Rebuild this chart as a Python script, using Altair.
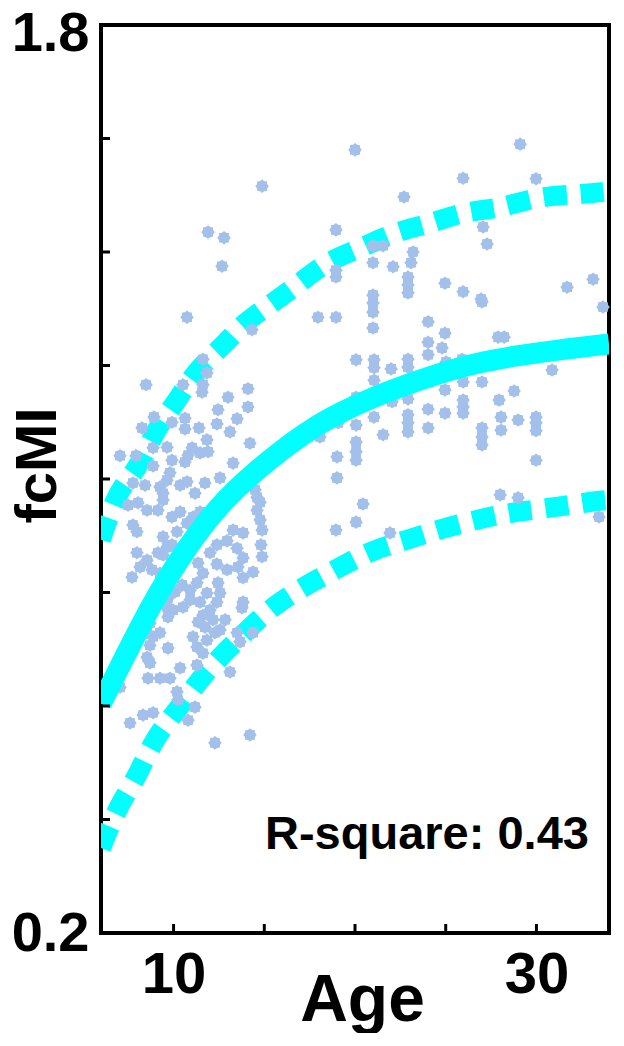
import math
import altair as alt
import pandas as pd

# ---------------- data ----------------
age = [20.00, 14.88, 11.90, 12.78, 18.95, 12.67, 18.95, 18.95, 10.74, 17.96,
       18.95, 14.32, 29.10, 25.96, 29.98, 22.70, 27.06, 27.28, 20.99, 21.55,
       23.20, 20.99, 22.10, 23.09, 22.92, 22.92, 22.92, 24.96, 25.96, 26.95,
       20.99, 20.99, 20.99, 31.69, 33.12, 33.67, 24.03, 20.99, 24.03, 24.96,
       24.80, 24.03, 20.06, 21.05, 21.05, 21.99, 22.92, 22.92, 21.05, 24.96,
       22.92, 22.04, 20.06, 21.05, 24.03, 24.96, 22.92, 22.92, 22.92, 20.06,
       24.03, 21.55, 20.06, 20.06, 20.06, 19.01, 19.01, 20.44, 20.06, 18.95,
       21.93, 19.07, 18.07, 27.00, 27.89, 25.90, 30.86, 25.96, 27.00, 28.77,
       25.96, 25.96, 25.96, 27.94, 28.05, 28.05, 28.99, 29.98, 29.98, 29.98,
       27.00, 27.00, 27.00, 29.98, 28.00, 28.99, 33.45, 11.62, 8.48, 10.52,
       11.62, 11.57, 11.84, 13.00, 14.10, 14.10, 12.45, 8.92, 8.26, 9.91,
       10.63, 10.63, 11.40, 12.39, 13.50, 13.11, 11.84, 14.21, 8.87, 9.64,
       7.05, 7.93, 11.02, 10.80, 10.63, 11.46, 11.90, 9.91, 8.87, 13.28,
       9.80, 9.64, 7.76, 8.43, 9.25, 9.42, 9.42, 10.36, 10.74, 11.73,
       12.56, 11.18, 14.49, 14.60, 14.77, 7.49, 8.04, 8.54, 9.14, 10.36,
       9.91, 11.46, 7.76, 7.98, 9.42, 10.19, 10.74, 11.07, 14.77, 14.88,
       13.28, 13.83, 7.98, 8.54, 9.14, 9.64, 8.15, 7.71, 8.81, 9.25,
       9.91, 9.42, 12.01, 12.39, 12.95, 13.50, 13.83, 13.55, 12.95, 12.39,
       14.88, 14.38, 13.83, 11.35, 11.62, 11.29, 10.91, 10.47, 10.08, 9.69,
       9.64, 9.97, 10.52, 10.91, 11.46, 11.84, 12.45, 12.56, 12.39, 13.83,
       13.77, 12.01, 11.62, 11.35, 11.73, 12.17, 12.84, 12.56, 12.28, 9.69,
       8.70, 8.54, 8.87, 9.25, 8.70, 8.54, 8.70, 9.69, 11.07, 11.29,
       11.62, 11.84, 13.50, 13.66, 14.38, 10.36, 11.29, 13.11, 8.59, 9.25,
       9.80, 7.05, 10.19, 10.24, 11.18, 8.32, 8.87, 7.60, 10.80, 12.28,
       14.21, 14.82, 14.60, 28.22, 25.02]

fcmi = [1.580, 1.516, 1.435, 1.425, 1.439, 1.375, 1.368, 1.356, 1.285, 1.285,
        1.285, 1.263, 1.590, 1.530, 1.529, 1.497, 1.444, 1.414, 1.411, 1.411,
        1.400, 1.381, 1.374, 1.381, 1.356, 1.342, 1.328, 1.345, 1.330, 1.317,
        1.324, 1.310, 1.294, 1.338, 1.352, 1.303, 1.277, 1.266, 1.241, 1.257,
        1.231, 1.219, 1.210, 1.210, 1.196, 1.194, 1.211, 1.197, 1.174, 1.157,
        1.141, 1.136, 1.144, 1.109, 1.123, 1.116, 1.113, 1.099, 1.083, 1.095,
        1.090, 1.078, 1.065, 1.048, 1.033, 1.039, 1.002, 0.956, 0.924, 0.910,
        0.905, 1.099, 1.074, 1.312, 1.250, 1.211, 1.192, 1.171, 1.171, 1.155,
        1.139, 1.127, 1.116, 1.139, 1.109, 1.086, 1.104, 1.109, 1.099, 1.085,
        1.090, 1.074, 1.060, 1.033, 0.972, 0.967, 0.933, 1.211, 1.166, 1.166,
        1.166, 1.153, 1.187, 1.144, 1.159, 1.127, 1.122, 1.109, 1.090, 1.100,
        1.107, 1.088, 1.090, 1.097, 1.106, 1.083, 1.069, 1.063, 1.055, 1.056,
        1.041, 1.041, 1.055, 1.042, 1.030, 1.046, 1.048, 1.033, 1.023, 1.028,
        1.011, 0.998, 0.993, 0.989, 0.986, 0.975, 0.963, 0.989, 0.995, 0.993,
        1.002, 0.975, 0.981, 0.968, 0.959, 0.954, 0.958, 0.945, 0.945, 0.942,
        0.933, 0.942, 0.919, 0.907, 0.898, 0.907, 0.922, 0.933, 0.928, 0.910,
        0.910, 0.905, 0.870, 0.857, 0.870, 0.880, 0.845, 0.827, 0.840, 0.834,
        0.884, 0.866, 0.870, 0.884, 0.891, 0.878, 0.861, 0.845, 0.840, 0.850,
        0.863, 0.836, 0.826, 0.852, 0.834, 0.817, 0.804, 0.813, 0.801, 0.790,
        0.774, 0.769, 0.774, 0.787, 0.783, 0.799, 0.817, 0.799, 0.783, 0.783,
        0.773, 0.769, 0.760, 0.748, 0.739, 0.752, 0.752, 0.734, 0.729, 0.757,
        0.746, 0.729, 0.722, 0.729, 0.707, 0.686, 0.676, 0.702, 0.722, 0.704,
        0.693, 0.716, 0.729, 0.713, 0.729, 0.667, 0.672, 0.660, 0.649, 0.649,
        0.649, 0.633, 0.625, 0.611, 0.598, 0.584, 0.588, 0.570, 0.575, 0.535,
        0.549, 0.884, 0.945, 1.250, 1.206]

fit_age = [6.00, 6.39, 8.87, 10.63, 12.67, 15.87, 18.62, 21.93,
           24.69, 26.89, 29.10, 31.30, 34.00]
fit_fcmi = [0.604, 0.628, 0.787, 0.875, 0.963, 1.051, 1.111, 1.157,
            1.187, 1.206, 1.218, 1.228, 1.238]

upper_age = [6.00, 6.94, 7.98, 8.98, 10.08, 11.29, 12.73, 13.88, 15.43, 16.92,
             18.51, 20.28, 22.21, 24.14, 26.07, 28.00, 30.09, 32.30, 34.00]
upper_fcmi = [0.893, 0.972, 1.021, 1.081, 1.134, 1.189, 1.236, 1.273, 1.310, 1.345,
              1.381, 1.407, 1.433, 1.451, 1.469, 1.479, 1.495, 1.502, 1.507]

lower_age = [6.00, 6.99, 7.98, 8.98, 10.19, 11.46, 12.84, 14.38, 15.87, 17.63,
             18.90, 20.83, 22.87, 24.80, 26.73, 28.55, 30.64, 32.85, 34.00]
lower_fcmi = [0.350, 0.422, 0.478, 0.540, 0.593, 0.646, 0.695, 0.743, 0.783, 0.818,
              0.840, 0.871, 0.893, 0.912, 0.928, 0.940, 0.949, 0.959, 0.963]

y_tick_values = [0.2, 0.4, 0.6, 0.8, 1.0, 1.2, 1.4, 1.6, 1.8]
x_tick_values = [10, 15, 20, 25, 30]
y_labels_shown = ["0.2", "1.8"]
x_labels_shown = ["10", "30"]
x_title = "Age"
y_title = "fcMI"
r_square_text = ["R-square: 0.43"]

# ---------------- styling ----------------
FONT = "Liberation Sans"
POINT_COLOR = "#a3c0ea"
CYAN = "#00ffff"

# 8-pointed star marker
pts = []
for i in range(16):
    r = 1.0 if i % 2 == 0 else 0.8
    a = math.pi * i / 8
    pts.append(f"{r * math.cos(a):.3f},{r * math.sin(a):.3f}")
star = "M" + " L".join(pts) + " Z"

x_scale = alt.Scale(domain=[6, 34], nice=False, zero=False)
y_scale = alt.Scale(domain=[0.2, 1.8], nice=False, zero=False)

y_label_test = " || ".join(f"datum.label == '{s}'" for s in y_labels_shown)
x_label_test = " || ".join(f"datum.label == '{s}'" for s in x_labels_shown)

x_axis = alt.Axis(values=x_tick_values, labelExpr=f"({x_label_test}) ? datum.label : ''",
                  ticks=False, domain=False, grid=False, labelFlush=False, labelOverlap=False,
                  labelFont=FONT, labelFontSize=58, labelFontWeight="bold", labelColor="black",
                  labelBaseline="alphabetic", labelPadding=59,
                  title=x_title, titleFont=FONT, titleFontSize=66, titleFontWeight="bold",
                  titleColor="black", titleX=261, titleY=87, titleBaseline="alphabetic",
                  titleAlign="center")
y_axis = alt.Axis(values=y_tick_values, labelExpr=f"({y_label_test}) ? datum.label : ''",
                  ticks=False, domain=False, grid=False, labelFlush=False, labelOverlap=False,
                  labelFont=FONT, labelFontSize=56, labelFontWeight="bold", labelColor="black",
                  labelPadding=12, labelBaseline="middle",
                  labelOffset={"condition": {"test": "datum.value > 1.7", "value": 8}, "value": 0},
                  title=y_title, titleFont=FONT, titleFontSize=58, titleFontWeight="bold",
                  titleColor="black", titleX=-46, titleY=440, titleAngle=270,
                  titleBaseline="alphabetic", titleAlign="center")

X = alt.X("age:Q", scale=x_scale, axis=x_axis)
Y = alt.Y("fcmi:Q", scale=y_scale, axis=y_axis)

pts_df = pd.DataFrame({"age": age, "fcmi": fcmi})
points = alt.Chart(pts_df).mark_point(
    shape=star, filled=True, size=185, color=POINT_COLOR, opacity=1, strokeWidth=0
).encode(x=X, y=Y)

def line_layer(xs, ys, dashed):
    df = pd.DataFrame({"age": xs, "fcmi": ys})
    kw = dict(color=CYAN, clip=True, strokeCap="butt")
    if dashed:
        kw.update(strokeWidth=20, strokeDash=[23, 14], interpolate="natural")
    else:
        kw.update(strokeWidth=21, interpolate="basis")
    return alt.Chart(df).mark_line(**kw).encode(x=X, y=Y)

upper = line_layer(upper_age, upper_fcmi, True)
lower = line_layer(lower_age, lower_fcmi, True)
solid = line_layer(fit_age, fit_fcmi, False)

ytick_rules = alt.Chart(pd.DataFrame({"fcmi": y_tick_values})).mark_rule(
    color="black", strokeWidth=3
).encode(y=Y, x=alt.value(0), x2=alt.value(9))

xtick_rules = alt.Chart(pd.DataFrame({"age": x_tick_values})).mark_rule(
    color="black", strokeWidth=3
).encode(x=X, y=alt.value(908), y2=alt.value(899))

rsq = alt.Chart(pd.DataFrame({"t": r_square_text})).mark_text(
    font=FONT, fontSize=47, fontWeight="bold", color="black",
    align="left", baseline="alphabetic"
).encode(text="t:N", x=alt.value(164), y=alt.value(824))

chart = alt.layer(
    upper, lower, points, solid, ytick_rules, xtick_rules, rsq
).properties(
    width=508, height=908,
    autosize=alt.AutoSizeParams(type="none"),
    padding={"left": 93, "top": 17, "right": 7, "bottom": 100},
    background="white",
).configure_view(
    stroke="black", strokeWidth=4
)

chart.save("out.html", embed_options={"renderer": "svg", "actions": False})
